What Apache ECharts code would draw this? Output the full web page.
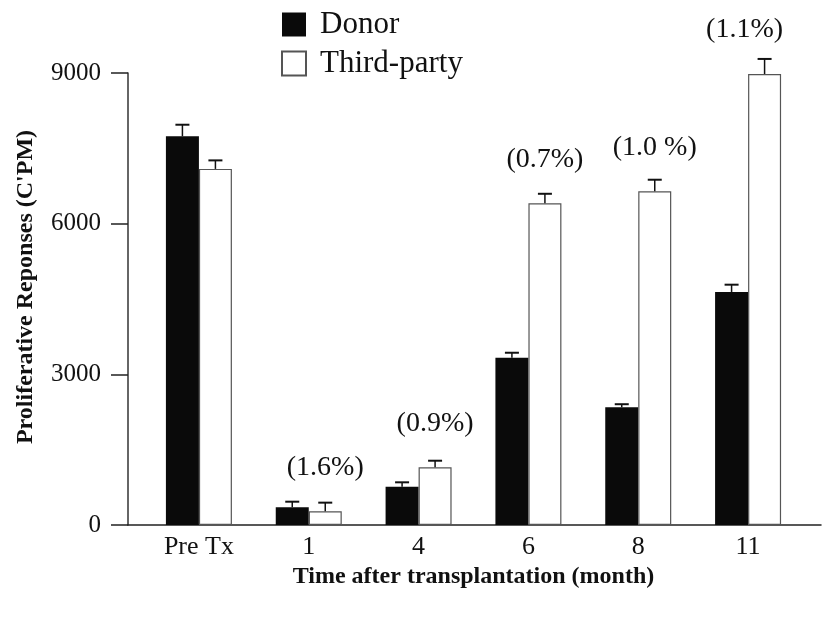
<!DOCTYPE html>
<html>
<head>
<meta charset="utf-8">
<script src="https://cdn.jsdelivr.net/npm/echarts@6/dist/echarts.min.js"></script>
<style>
  html, body { margin: 0; padding: 0; background: #fff; }
  #chart { width: 829px; height: 620px; }
</style>
</head>
<body>
<div id="chart"></div>
<script>
const categories = ['Pre Tx', '1', '4', '6', '8', '11'];
const donorVals = [7740, 354, 760, 3330, 2345, 4640];
const donorErr = [230, 110, 90, 100, 60, 145];
const thirdVals = [7090, 275, 1150, 6405, 6645, 8980];
const thirdErr = [170, 170, 130, 190, 230, 300];
const pctLabels = ['', '(1.6%)', '(0.9%)', '(0.7%)', '(1.0 %)', '(1.1%)'];
const yTicks = [0, 3000, 6000, 9000];

const serif = '"Liberation Serif", "Times New Roman", serif';
const BAR_W = 33;

const chart = echarts.init(document.getElementById('chart'));

// error bar: vertical line + cap, shifted to the bar's side of the group
function errorBar(shift) {
  return function (params, api) {
    const i = api.value(0);
    const top = api.coord([i, api.value(1)]);
    const hi = api.coord([i, api.value(1) + api.value(2)]);
    const x = top[0] + shift;
    return {
      type: 'group',
      children: [
        { type: 'line', shape: { x1: x, y1: top[1], x2: x, y2: hi[1] },
          style: { stroke: '#111', lineWidth: 1.5 } },
        { type: 'line', shape: { x1: x - 7, y1: hi[1], x2: x + 7, y2: hi[1] },
          style: { stroke: '#111', lineWidth: 2 } }
      ]
    };
  };
}

const option = {
  backgroundColor: '#fff',
  animation: false,
  legend: {
    orient: 'vertical',
    left: 276,
    top: 4,
    itemWidth: 24,
    itemHeight: 24,
    itemGap: 8,
    textStyle: { fontFamily: serif, fontSize: 31, color: '#111', padding: [0, 0, 0, 9] },
    data: [
      { name: 'Donor', icon: 'rect' },
      { name: 'Third-party', icon: 'rect' }
    ]
  },
  grid: [
    { left: 144, right: 26, top: 73, bottom: 95 },
    { left: 128, right: 8, top: 73, bottom: 95 }
  ],
  xAxis: [
    {
      type: 'category',
      gridIndex: 0,
      data: categories,
      axisLine: { show: false },
      axisTick: { show: false },
      axisLabel: { fontFamily: serif, fontSize: 26, color: '#111', margin: 9 },
      name: 'Time after transplantation (month)',
      nameLocation: 'middle',
      nameGap: 40,
      nameTextStyle: { fontFamily: serif, fontSize: 24, fontWeight: 'bold', color: '#111' }
    },
    {
      type: 'value',
      gridIndex: 1,
      min: 0,
      max: 1,
      axisLine: { show: true, lineStyle: { color: '#222', width: 1.5 } },
      axisTick: { show: false },
      axisLabel: { show: false },
      splitLine: { show: false }
    }
  ],
  yAxis: [
    {
      type: 'value',
      gridIndex: 0,
      min: 0,
      max: 9000,
      interval: 3000,
      show: false
    },
    {
      type: 'value',
      gridIndex: 1,
      min: 0,
      max: 9000,
      interval: 3000,
      axisLine: { show: true, lineStyle: { color: '#333', width: 1.5 } },
      axisTick: { show: true, inside: false, length: 17, lineStyle: { color: '#222', width: 1.5 } },
      axisLabel: {
        fontFamily: serif, fontSize: 25, color: '#111', margin: 27,
        formatter: v => yTicks.includes(v) ? String(v) : ''
      },
      splitLine: { show: false },
      name: "Proliferative Reponses (C'PM)",
      nameLocation: 'middle',
      nameGap: 90,
      nameTextStyle: {
        fontFamily: serif, fontSize: 24, fontWeight: 'bold', color: '#111',
        padding: [0, 0, 0, 24]
      }
    }
  ],
  series: [
    {
      name: 'Donor',
      type: 'bar',
      xAxisIndex: 0,
      yAxisIndex: 0,
      barWidth: BAR_W,
      barGap: '0%',
      clip: false,
      itemStyle: { color: '#0a0a0a' },
      data: donorVals
    },
    {
      name: 'Third-party',
      type: 'bar',
      xAxisIndex: 0,
      yAxisIndex: 0,
      barWidth: BAR_W,
      barGap: '0%',
      clip: false,
      itemStyle: { color: '#fff', borderColor: '#555', borderWidth: 1.2 },
      label: {
        show: true,
        position: 'top',
        distance: 30,
        fontFamily: serif,
        fontSize: 28,
        color: '#111',
        formatter: p => pctLabels[p.dataIndex]
      },
      data: thirdVals.map((v, i) => i === 5 ? { value: v, label: { offset: [-20, 0] } } : v)
    },
    {
      type: 'custom',
      xAxisIndex: 0,
      yAxisIndex: 0,
      clip: false,
      silent: true,
      renderItem: errorBar(-BAR_W / 2),
      data: donorVals.map((v, i) => [i, v, donorErr[i]]),
      z: 5
    },
    {
      type: 'custom',
      xAxisIndex: 0,
      yAxisIndex: 0,
      clip: false,
      silent: true,
      renderItem: errorBar(BAR_W / 2),
      data: thirdVals.map((v, i) => [i, v, thirdErr[i]]),
      z: 5
    }
  ]
};

chart.setOption(option);
</script>
</body>
</html>
